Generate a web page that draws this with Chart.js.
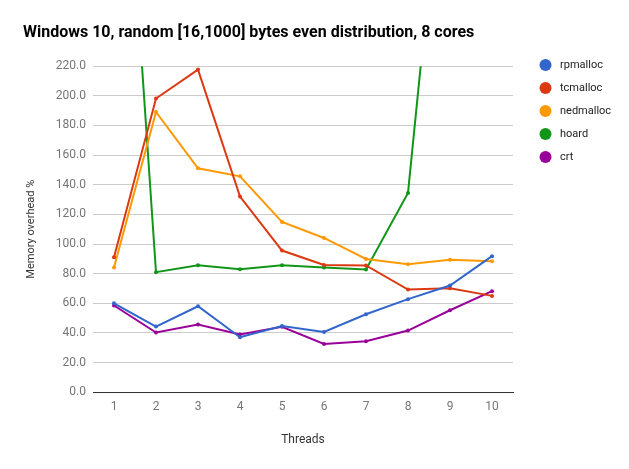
<!DOCTYPE html>
<html>
<head>
<meta charset="utf-8">
<script src="https://cdn.jsdelivr.net/npm/chart.js@4"></script>
<style>
  html, body { margin: 0; padding: 0; background: #fff; }
  #wrap { width: 629px; height: 469px; }
</style>
</head>
<body>
<div id="wrap"><canvas id="chart" width="629" height="469"></canvas></div>
<script>
// x categories (thread counts)
const threads = ["1", "2", "3", "4", "5", "6", "7", "8", "9", "10"];

// memory overhead % per allocator
const rpmalloc = [60, 44.3, 58, 37.1, 44.7, 40.7, 52.6, 62.8, 72, 91.8];
const tcmalloc = [91.1, 198.2, 217.7, 132, 95.6, 85.9, 85.5, 69.3, 70.2, 65];
const nedmalloc = [84.1, 189.1, 151.1, 145.7, 114.9, 104.1, 89.9, 86.4, 89.3, 88.4];
const hoard = [498, 81, 85.7, 83, 85.7, 84.1, 82.8, 134.5, 418, 480];
const crt = [58.5, 40.3, 45.7, 38.9, 44.1, 32.6, 34.4, 41.6, 55.3, 68.2];

const yTicks = [0, 20, 40, 60, 80, 100, 120, 140, 160, 180, 200, 220];

function series(label, data, color) {
  return {
    label,
    data,
    borderColor: color,
    backgroundColor: color,
    borderWidth: 2,
    pointRadius: 2,
    pointBorderWidth: 0,
    pointHoverRadius: 2,
    tension: 0,
  };
}

// simple right-side legend with round markers, like the original
const sideLegend = {
  id: "sideLegend",
  afterDraw(chart) {
    const ctx = chart.ctx;
    ctx.save();
    chart.data.datasets.forEach((ds, i) => {
      const y = 65 + i * 23;
      ctx.beginPath();
      ctx.arc(545.5, y, 6, 0, Math.PI * 2);
      ctx.fillStyle = ds.borderColor;
      ctx.fill();
      ctx.fillStyle = "#222";
      ctx.font = "11px Roboto";
      ctx.textAlign = "left";
      ctx.textBaseline = "middle";
      ctx.fillText(ds.label, 560, y);
    });
    ctx.restore();
  },
};

new Chart(document.getElementById("chart"), {
  type: "line",
  data: {
    labels: threads,
    datasets: [
      series("rpmalloc", rpmalloc, "#3366cc"),
      series("tcmalloc", tcmalloc, "#dc3912"),
      series("nedmalloc", nedmalloc, "#ff9900"),
      series("hoard", hoard, "#109618"),
      series("crt", crt, "#990099"),
    ],
  },
  plugins: [sideLegend],
  options: {
    responsive: false,
    animation: false,
    layout: { padding: { left: 23, right: 116, top: 0, bottom: 22 } },
    plugins: {
      legend: { display: false },
      tooltip: { enabled: false },
      title: {
        display: true,
        text: "Windows 10, random [16,1000] bytes even distribution, 8 cores",
        align: "start",
        color: "#000",
        font: { family: "Roboto", size: 16, weight: "bold" },
        padding: { top: 23, bottom: 24 },
      },
    },
    scales: {
      x: {
        offset: true,
        grid: { display: false, drawTicks: false },
        border: { display: true, color: "#333", width: 1 },
        ticks: {
          color: "#757575",
          padding: 8,
          font: { family: "Roboto", size: 12 },
        },
        title: {
          display: true,
          text: "Threads",
          color: "#333",
          font: { family: "Roboto", size: 12 },
          padding: { top: 10, bottom: 0 },
        },
      },
      y: {
        min: 0,
        max: 220,
        afterBuildTicks(scale) {
          scale.ticks = yTicks.map((v) => ({ value: v }));
        },
        afterFit(scale) {
          scale.width = 70;
        },
        grid: {
          drawTicks: false,
          color: (c) => (c.tick && c.tick.value === 0 ? "#333" : "#cccccc"),
        },
        border: { display: false },
        ticks: {
          color: "#757575",
          padding: 7,
          font: { family: "Roboto", size: 12 },
          callback: (v) => Number(v).toFixed(1),
        },
        title: {
          display: true,
          text: "Memory overhead %",
          color: "#333",
          font: { family: "Roboto", size: 11 },
          padding: { top: 2, bottom: 0 },
        },
      },
    },
  },
});
</script>
</body>
</html>
